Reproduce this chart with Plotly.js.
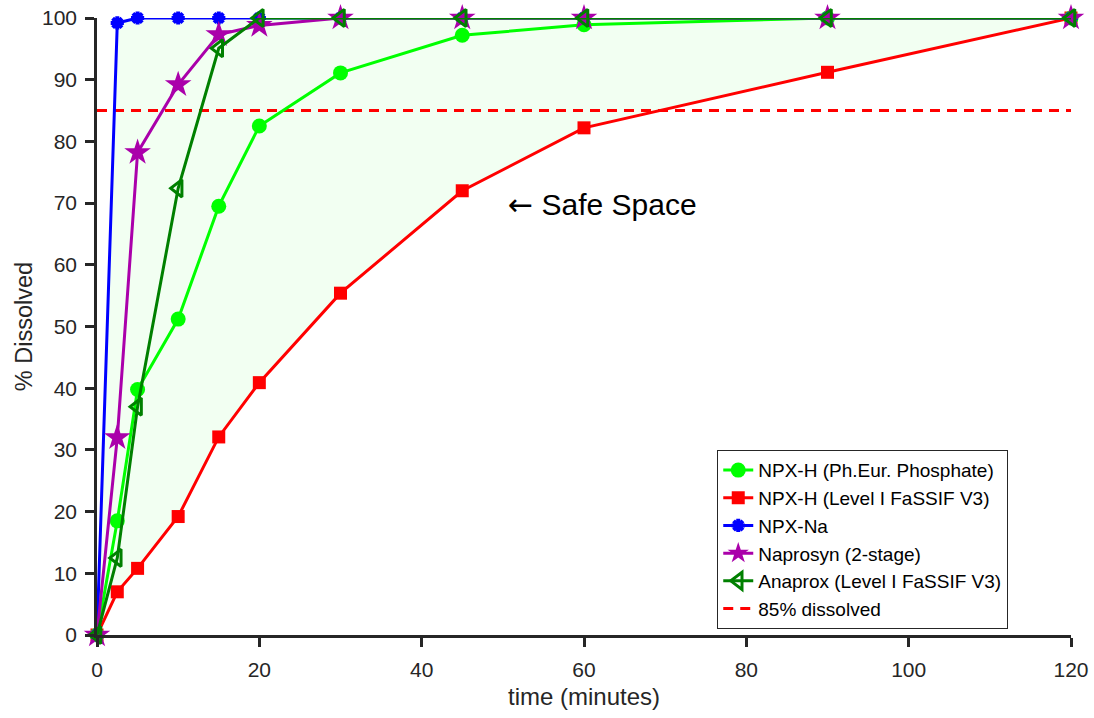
<!DOCTYPE html>
<html><head><meta charset="utf-8">
<script src="https://cdn.plot.ly/plotly-3.0.1.min.js"></script>
<style>body{margin:0;background:#fff}#c{width:1094px;height:718px}</style>
</head><body><div id="c"></div>
<script>
const time = [0, 2.5, 5, 10, 15, 20, 30, 45, 60, 90, 120];
const npxhPhosphate = [0, 18.5, 39.8, 51.2, 69.5, 82.5, 91.1, 97.2, 98.9, 100, 100];
const npxhFassif = [0, 7, 10.8, 19.2, 32.1, 40.9, 55.4, 72, 82.2, 91.2, 100];
const npxNa = [0, 99.2, 100, 100, 100, 100, 100, 100, 100, 100, 100];
const naprosyn = [0, 32, 78.2, 89.2, 97.3, 98.8, 100, 100, 100, 100, 100];
const anaprox = [0, 12.5, 37, 72.4, 95.1, 100, 100, 100, 100, 100, 100];
const threshold = 85;
const seriesNames = ['NPX-H (Ph.Eur. Phosphate)', 'NPX-H (Level I FaSSIF V3)', 'NPX-Na', 'Naprosyn (2-stage)', 'Anaprox (Level I FaSSIF V3)', '85% dissolved'];

const fillX = time.concat(time.slice().reverse());
const fillY = npxNa.concat(npxhFassif.slice().reverse());

const traces = [
  {x: fillX, y: fillY, mode: 'lines', fill: 'toself', fillcolor: 'rgb(242,255,242)', line: {width: 0}, showlegend: false, hoverinfo: 'skip'},
  {x: [0, 120], y: [threshold, threshold], mode: 'lines', name: seriesNames[5], line: {color: '#ff0000', width: 3, dash: '10px,7px'}},
  {x: time, y: npxhFassif, mode: 'lines+markers', name: seriesNames[1], line: {color: '#ff0000', width: 3}, marker: {symbol: 'square', size: 13, color: '#ff0000'}},
  {x: time, y: npxhPhosphate, mode: 'lines+markers', name: seriesNames[0], line: {color: '#00ff00', width: 3}, marker: {symbol: 'circle', size: 15, color: '#00ff00'}},
  {x: time, y: npxNa, mode: 'lines+markers', name: seriesNames[2], line: {color: '#0000ff', width: 3}, marker: {symbol: 'asterisk-open', size: 11, color: '#0000ff', line: {color: '#0000ff', width: 4}}},
  {x: time, y: naprosyn, mode: 'lines+markers', name: seriesNames[3], line: {color: '#aa00aa', width: 3}, marker: {symbol: 'star', size: 20, color: '#aa00aa'}},
  {x: time, y: anaprox, mode: 'lines+markers', name: seriesNames[4], line: {color: '#008000', width: 3}, marker: {symbol: 'triangle-left-open', size: 15, color: '#008000', line: {color: '#008000', width: 3}}}
];
traces.forEach(t => { t.cliponaxis = false; });

const legendOrder = [3, 2, 4, 5, 6, 1];
legendOrder.forEach((idx, k) => { traces[idx].legendrank = k + 1; });

const layout = {
  width: 1094, height: 718,
  margin: {l: 97, r: 23, t: 18, b: 83},
  paper_bgcolor: '#fff', plot_bgcolor: '#fff',
  font: {family: 'Liberation Sans, Arial, sans-serif', color: '#262626', size: 21},
  xaxis: {range: [0, 120], tickvals: [0, 20, 40, 60, 80, 100, 120], ticks: 'outside', ticklen: 9, tickwidth: 2.5, tickcolor: '#262626',
    ticklabelstandoff: 5,
    showline: true, linecolor: '#262626', linewidth: 2.5, showgrid: false, zeroline: false,
    title: {text: 'time (minutes)', font: {size: 24, color: '#262626'}, standoff: 9}},
  yaxis: {range: [0, 100], dtick: 10, ticks: 'outside', ticklen: 9, tickwidth: 2.5, tickcolor: '#262626',
    ticklabelstandoff: 4,
    showline: true, linecolor: '#262626', linewidth: 2.5, showgrid: false, zeroline: false,
    title: {text: '% Dissolved', font: {size: 23.5, color: '#262626'}, standoff: 3}},
  legend: {x: 0.6366, y: 0.2998, xanchor: 'left', yanchor: 'top', bgcolor: '#fff', bordercolor: '#262626', borderwidth: 1.2,
    font: {size: 19, color: '#000'}, tracegroupgap: 0},
  annotations: [{x: 50.4, y: 69.8, xref: 'x', yref: 'y', xanchor: 'left', yanchor: 'middle', showarrow: false,
    text: '<span style="font-family:DejaVu Sans">\u2190</span> Safe Space', font: {size: 30, color: '#000'}}],
  showlegend: true
};
Plotly.newPlot('c', traces, layout, {displayModeBar: false});
</script></body></html>
